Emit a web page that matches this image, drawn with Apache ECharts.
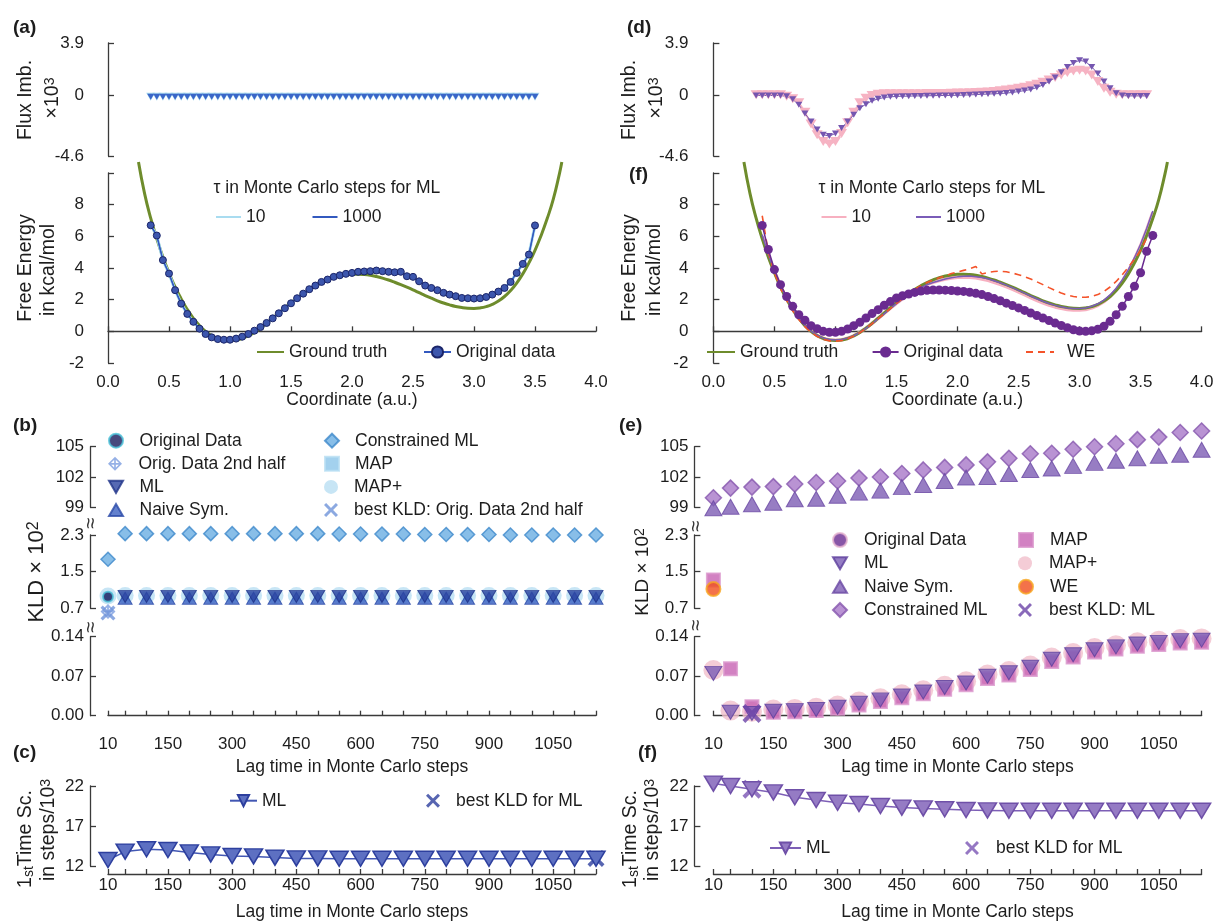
<!DOCTYPE html>
<html>
<head>
<meta charset="utf-8">
<script src="https://cdn.jsdelivr.net/npm/echarts@6/dist/echarts.min.js"></script>
<style>
html,body{margin:0;padding:0;background:#fff;}
#chart{width:1215px;height:924px;}
</style>
</head>
<body>
<div id="chart"></div>
<script>
// ---------- reaction coordinate samples (a.u.) ----------
const gtCoord = [0.25,0.30,0.35,0.40,0.45,0.50,0.55,0.60,0.65,0.70,0.75,0.80,0.85,0.90,0.95,1.00,1.05,1.10,1.15,1.20,1.25,1.30,1.35,1.40,1.45,1.50,1.55,1.60,1.65,1.70,1.75,1.80,1.85,1.90,1.95,2.00,2.05,2.10,2.15,2.20,2.25,2.30,2.35,2.40,2.45,2.50,2.55,2.60,2.65,2.70,2.75,2.80,2.85,2.90,2.95,3.00,3.05,3.10,3.15,3.20,3.25,3.30,3.35,3.40,3.45,3.50,3.55,3.60,3.65,3.70,3.72];
const groundTruth = [10.7,8.7,7.15,5.85,4.7,3.7,2.8,2.05,1.38,0.82,0.36,0.0,-0.27,-0.45,-0.55,-0.58,-0.55,-0.45,-0.29,-0.07,0.2,0.5,0.83,1.16,1.49,1.81,2.11,2.39,2.65,2.88,3.08,3.25,3.39,3.49,3.56,3.6,3.61,3.59,3.54,3.46,3.36,3.24,3.1,2.95,2.79,2.62,2.44,2.26,2.09,1.93,1.79,1.67,1.57,1.5,1.46,1.45,1.48,1.56,1.7,1.91,2.2,2.58,3.05,3.63,4.32,5.12,6.05,7.12,8.35,9.95,10.7];

// left column: equilibrium data
const coordLeft = [0.35,0.40,0.45,0.50,0.55,0.60,0.65,0.70,0.75,0.80,0.85,0.90,0.95,1.00,1.05,1.10,1.15,1.20,1.25,1.30,1.35,1.40,1.45,1.50,1.55,1.60,1.65,1.70,1.75,1.80,1.85,1.90,1.95,2.00,2.05,2.10,2.15,2.20,2.25,2.30,2.35,2.40,2.45,2.50,2.55,2.60,2.65,2.70,2.75,2.80,2.85,2.90,2.95,3.00,3.05,3.10,3.15,3.20,3.25,3.30,3.35,3.40,3.45,3.50];
const origLeft = [6.7,6.05,4.5,3.65,2.6,1.75,1.1,0.6,0.17,-0.17,-0.38,-0.49,-0.53,-0.53,-0.46,-0.34,-0.17,0.04,0.27,0.53,0.82,1.14,1.46,1.77,2.09,2.38,2.66,2.89,3.12,3.27,3.44,3.54,3.63,3.69,3.76,3.78,3.8,3.84,3.8,3.76,3.73,3.76,3.48,3.44,3.16,2.89,2.74,2.6,2.43,2.32,2.22,2.11,2.09,2.07,2.09,2.17,2.32,2.51,2.74,3.12,3.69,4.26,4.85,6.69];
// ML estimates for both lag times follow the histogram on this side
const mlLeft10 = origLeft;
const mlLeft1000 = origLeft;
const fluxLeft10 = [0,0,0,0,0,0,0,0,0,0,0,0,0,0,0,0,0,0,0,0,0,0,0,0,0,0,0,0,0,0,0,0,0,0,0,0,0,0,0,0,0,0,0,0,0,0,0,0,0,0,0,0,0,0,0,0,0,0,0,0,0,0,0,0];
const fluxLeft1000 = [0,0,0,0,0,0,0,0,0,0,0,0,0,0,0,0,0,0,0,0,0,0,0,0,0,0,0,0,0,0,0,0,0,0,0,0,0,0,0,0,0,0,0,0,0,0,0,0,0,0,0,0,0,0,0,0,0,0,0,0,0,0,0,0];

// right column: non-equilibrium data
const coordRight = [0.40,0.45,0.50,0.55,0.60,0.65,0.70,0.75,0.80,0.85,0.90,0.95,1.00,1.05,1.10,1.15,1.20,1.25,1.30,1.35,1.40,1.45,1.50,1.55,1.60,1.65,1.70,1.75,1.80,1.85,1.90,1.95,2.00,2.05,2.10,2.15,2.20,2.25,2.30,2.35,2.40,2.45,2.50,2.55,2.60,2.65,2.70,2.75,2.80,2.85,2.90,2.95,3.00,3.05,3.10,3.15,3.20,3.25,3.30,3.35,3.40,3.45,3.50,3.55,3.60];
const origRight = [6.69,5.17,3.9,2.95,2.2,1.58,1.05,0.7,0.36,0.17,0.0,-0.06,-0.06,0.0,0.15,0.36,0.57,0.84,1.12,1.37,1.65,1.88,2.11,2.25,2.36,2.46,2.54,2.59,2.61,2.61,2.6,2.58,2.55,2.52,2.47,2.4,2.32,2.2,2.07,1.93,1.78,1.63,1.48,1.32,1.16,1.0,0.84,0.68,0.52,0.37,0.23,0.1,0.02,0.0,0.03,0.13,0.32,0.63,1.05,1.58,2.2,2.85,3.7,5.06,6.05];
const mlRight10 = [6.0,4.8,3.78,2.85,2.07,1.4,0.83,0.37,0.0,-0.27,-0.45,-0.55,-0.57,-0.54,-0.44,-0.28,-0.06,0.2,0.5,0.82,1.14,1.46,1.77,2.06,2.33,2.57,2.78,2.96,3.1,3.21,3.3,3.37,3.41,3.43,3.42,3.38,3.31,3.22,3.1,2.97,2.82,2.66,2.49,2.31,2.13,1.96,1.8,1.66,1.54,1.45,1.38,1.34,1.34,1.38,1.48,1.64,1.88,2.2,2.62,3.15,3.8,4.55,5.4,6.4,7.5];
const mlRight1000 = [6.1,4.85,3.8,2.85,2.08,1.4,0.84,0.38,0.02,-0.25,-0.43,-0.52,-0.55,-0.52,-0.43,-0.28,-0.07,0.19,0.48,0.8,1.12,1.44,1.75,2.04,2.31,2.55,2.76,2.94,3.08,3.2,3.3,3.38,3.44,3.48,3.49,3.45,3.4,3.32,3.2,3.07,2.92,2.76,2.59,2.41,2.23,2.06,1.9,1.76,1.64,1.55,1.48,1.44,1.44,1.48,1.58,1.74,1.97,2.3,2.72,3.25,3.9,4.65,5.5,6.5,7.6];
const weCoord = [0.40,0.45,0.50,0.55,0.60,0.65,0.70,0.75,0.80,0.85,0.90,0.95,1.00,1.05,1.10,1.15,1.20,1.25,1.30,1.35,1.40,1.45,1.50,1.55,1.60,1.65,1.70,1.75,1.80,1.85,1.90,1.95,2.00,2.05,2.10,2.15,2.20,2.25,2.30,2.35,2.40,2.45,2.50,2.55,2.60,2.65,2.70,2.75,2.80,2.85,2.90,2.95,3.00,3.05,3.10,3.15,3.20,3.25,3.30,3.35,3.40,3.45,3.50,3.55];
const weRight = [7.3,5.0,3.7,2.7,1.95,1.3,0.75,0.3,-0.05,-0.32,-0.5,-0.6,-0.62,-0.58,-0.47,-0.3,-0.08,0.18,0.48,0.8,1.12,1.44,1.76,2.07,2.37,2.64,2.88,3.08,3.25,3.38,3.5,3.65,3.75,3.85,3.95,4.1,3.62,3.72,3.78,3.8,3.76,3.68,3.58,3.45,3.3,3.13,2.95,2.76,2.58,2.42,2.29,2.2,2.15,2.15,2.2,2.32,2.52,2.8,3.15,3.58,4.05,4.55,5.1,5.9];
const fluxCoordRight = [0.35,0.40,0.45,0.50,0.55,0.60,0.65,0.70,0.75,0.80,0.85,0.90,0.95,1.00,1.05,1.10,1.15,1.20,1.25,1.30,1.35,1.40,1.45,1.50,1.55,1.60,1.65,1.70,1.75,1.80,1.85,1.90,1.95,2.00,2.05,2.10,2.15,2.20,2.25,2.30,2.35,2.40,2.45,2.50,2.55,2.60,2.65,2.70,2.75,2.80,2.85,2.90,2.95,3.00,3.05,3.10,3.15,3.20,3.25,3.30,3.35,3.40,3.45,3.50,3.55];
const fluxRight10 = [0,0,0,0,0,-0.1,-0.3,-0.6,-1.3,-2.2,-3.0,-3.5,-3.7,-3.5,-2.9,-2.1,-1.3,-0.6,-0.25,-0.05,0.05,0.08,0.08,0.08,0.08,0.08,0.08,0.09,0.1,0.1,0.1,0.11,0.12,0.13,0.14,0.15,0.17,0.19,0.22,0.26,0.3,0.36,0.42,0.5,0.58,0.68,0.8,0.95,1.12,1.3,1.5,1.68,1.8,1.85,1.8,1.5,1.0,0.5,0.2,0.05,0,0,0,0,0];
const fluxRight1000 = [-0.05,-0.05,-0.05,-0.05,-0.05,-0.1,-0.33,-0.75,-1.4,-2.0,-2.6,-3.0,-3.1,-2.9,-2.5,-2.0,-1.5,-1.0,-0.7,-0.45,-0.3,-0.2,-0.15,-0.12,-0.1,-0.1,-0.08,-0.08,-0.07,-0.06,-0.05,-0.05,-0.04,-0.03,-0.02,0.0,0.02,0.04,0.06,0.08,0.1,0.13,0.18,0.25,0.32,0.4,0.55,0.75,1.0,1.3,1.7,2.1,2.4,2.6,2.5,2.1,1.6,1.0,0.5,0.12,-0.05,-0.08,-0.08,-0.08,-0.08];

// ---------- lag times (Monte Carlo steps) ----------
const lags = [10,50,100,150,200,250,300,350,400,450,500,550,600,650,700,750,800,850,900,950,1000,1050,1100,1150];
const lagsFrom50 = [50,100,150,200,250,300,350,400,450,500,550,600,650,700,750,800,850,900,950,1000,1050,1100,1150];
const lagLabels = [10,150,300,450,600,750,900,1050];

// KLD x 10^2, left column
const kldLMapPlus = [0.97,0.98,0.98,0.98,0.98,0.98,0.98,0.98,0.98,0.98,0.98,0.98,0.98,0.98,0.98,0.98,0.98,0.98,0.98,0.98,0.98,0.98,0.98,0.98];
const kldLMap = [0.96,0.96,0.96,0.96,0.96,0.96,0.96,0.96,0.96,0.96,0.96,0.96,0.96,0.96,0.96,0.96,0.96,0.96,0.96,0.96,0.96,0.96,0.96,0.96];
const kldLConstrained = [1.77,2.33,2.33,2.33,2.33,2.33,2.33,2.33,2.33,2.33,2.33,2.32,2.32,2.32,2.32,2.31,2.31,2.31,2.31,2.3,2.3,2.3,2.3,2.3];
const kldLML = [0.96,0.96,0.96,0.96,0.96,0.96,0.96,0.96,0.96,0.96,0.96,0.96,0.96,0.96,0.96,0.96,0.96,0.96,0.96,0.96,0.96,0.96,0.96];
const kldLNaive = [0.92,0.92,0.92,0.92,0.92,0.92,0.92,0.92,0.92,0.92,0.92,0.92,0.92,0.92,0.92,0.92,0.92,0.92,0.92,0.92,0.92,0.92,0.92];
const kldLOrigLag = [10], kldLOrig = [0.95];
const kldLHalfLag = [10], kldLHalf = [0.63];
const kldLBestLag = [10], kldLBest = [0.6];

// KLD x 10^2, right column
const kldRConstrained = [99.95,100.9,101.0,101.05,101.3,101.45,101.6,101.9,102.0,102.35,102.7,102.95,103.2,103.5,103.85,104.3,104.35,104.75,105.0,105.3,105.7,105.95,106.4,106.55];
const kldRNaive = [98.9,99.06,99.3,99.45,99.8,99.85,100.15,100.45,100.65,101.0,101.2,101.6,101.95,102.0,102.3,102.7,102.85,103.1,103.4,103.6,103.85,104.1,104.2,104.7];
const kldRMapLag10 = [1.32];
const kldRWE = [1.12];
const kldRML = [0.075,0.006,0.004,0.008,0.009,0.011,0.015,0.022,0.028,0.035,0.042,0.05,0.058,0.07,0.076,0.086,0.1,0.108,0.117,0.122,0.127,0.13,0.133,0.134];
const kldRMap = [0.083,0.016,0.006,0.007,0.009,0.013,0.019,0.025,0.032,0.039,0.047,0.055,0.066,0.072,0.082,0.096,0.104,0.113,0.118,0.123,0.126,0.129,0.13];
const kldRMapPlus = [0.081,0.009,0.007,0.011,0.012,0.014,0.018,0.025,0.031,0.038,0.045,0.053,0.061,0.073,0.079,0.089,0.103,0.111,0.12,0.125,0.13,0.133,0.136,0.137];
const kldRBestLag = [100], kldRBest = [0.004];
const kldROrigLag = [], kldROrig = [];

// first implied time scale (steps / 10^3)
const tsLeftML = [12.75,13.8,14.1,14.0,13.7,13.45,13.25,13.2,13.05,12.95,12.95,12.9,12.9,12.9,12.9,12.9,12.9,12.9,12.9,12.9,12.9,12.9,12.9,12.9];
const tsLeftBestLag = [1150], tsLeftBest = [12.95];
const tsRightML = [22.3,22.0,21.6,21.2,20.6,20.25,19.9,19.75,19.5,19.3,19.2,19.1,19.0,18.95,18.9,18.9,18.9,18.9,18.9,18.9,18.9,18.9,18.9,18.9];
const tsRightBestLag = [100], tsRightBest = [21.6];

// ---------- styling ----------
const FONT = '"Liberation Sans", Arial, Helvetica, sans-serif';
const AX = '#3a3a3a';
const TXT = '#1d1d1d';
const TRI_DOWN = 'path://M0,0L20,0L10,17.3Z';
const TRI_UP = 'path://M10,0L20,17.3L0,17.3Z';
const XMARK = 'path://M0,1.5L1.5,0L5,3.5L8.5,0L10,1.5L6.5,5L10,8.5L8.5,10L5,6.5L1.5,10L0,8.5L3.5,5Z';
const CROSS_DIAMOND = 'path://M5,0L10,5L5,10L0,5Z M5,1.6L1.6,5L5,8.4L8.4,5Z M4.4,0.6L5.6,0.6L5.6,9.4L4.4,9.4Z M0.6,4.4L9.4,4.4L9.4,5.6L0.6,5.6Z';

const pts = (xs, ys) => xs.map((x, i) => [x, ys[i]]);

// panel geometry
const COLS = [
  {left: 108, width: 488, yOff: 18},
  {left: 713.4, width: 488.2, yOff: 19}
];
const ROWS = [
  {top: 43, height: 113},     // flux imbalance
  {top: 173, height: 190},    // free energy
  {top: 446.7, height: 60.6}, // KLD upper segment
  {top: 535, height: 73.3},   // KLD middle segment
  {top: 636.7, height: 79},   // KLD lower segment
  {top: 786, height: 80}      // time scale
];

const grids = [];
COLS.forEach(c => ROWS.forEach(r => grids.push({
  left: c.left, top: r.top, width: c.width, height: r.height, outerBoundsMode: 'none'
})));

const axLine = {show: true, lineStyle: {color: AX, width: 1.3}};
const labelBase = {color: TXT, fontSize: 17, fontFamily: FONT};

function yAxis(g, off, min, max, vals, fmt) {
  return {
    type: 'value', gridIndex: g, min: min, max: max, offset: off,
    axisLine: axLine,
    axisTick: {show: true, inside: true, length: 6, customValues: vals, lineStyle: {color: AX, width: 1.3}},
    axisLabel: Object.assign({margin: 6, customValues: vals.filter(v => fmt(v) !== ''), formatter: fmt}, labelBase),
    splitLine: {show: false}
  };
}
function xHidden(g, min, max) {
  return {type: 'value', gridIndex: g, min: min, max: max, show: false};
}
function xShown(g, min, max, off, tickVals, labelVals, fmt, name, gap) {
  return {
    type: 'value', gridIndex: g, min: min, max: max, offset: off,
    axisLine: axLine,
    axisTick: {show: true, inside: true, length: 5, customValues: tickVals, lineStyle: {color: AX, width: 1.3}},
    axisLabel: Object.assign({margin: 3, customValues: labelVals, formatter: fmt}, labelBase),
    splitLine: {show: false},
    name: name, nameLocation: 'middle', nameGap: gap, nameMoveOverlap: false,
    nameTextStyle: {color: TXT, fontSize: 17.5, fontFamily: FONT}
  };
}

const coordTicks = [0, 0.5, 1, 1.5, 2, 2.5, 3, 3.5, 4];
const xAxes = [], yAxes = [];
COLS.forEach((c, ci) => {
  const b = ci * 6;
  xAxes.push(xHidden(b, 0, 4));
  xAxes.push(xShown(b + 1, 0, 4, 8, coordTicks, coordTicks, v => v.toFixed(1), 'Coordinate (a.u.)', 20));
  xAxes.push(xHidden(b + 2, 10, 1150));
  xAxes.push(xHidden(b + 3, 10, 1150));
  xAxes.push(xShown(b + 4, 10, 1150, 17, lags, lagLabels, v => String(v), 'Lag time in Monte Carlo steps', 25));
  xAxes.push(xShown(b + 5, 10, 1150, 8, lags, lagLabels, v => String(v), 'Lag time in Monte Carlo steps', 29));

  yAxes.push(yAxis(b, c.yOff, -4.6, 3.9, [-4.6, 0, 3.9], v => String(v)));
  yAxes.push(yAxis(b + 1, c.yOff, -2, 10, [-2, 0, 2, 4, 6, 8, 10], v => v === 10 ? '' : String(v)));
  yAxes.push(yAxis(b + 2, c.yOff, 99, 105, [99, 102, 105], v => String(v)));
  yAxes.push(yAxis(b + 3, c.yOff, 0.7, 2.3, [0.7, 1.5, 2.3], v => v.toFixed(1)));
  yAxes.push(yAxis(b + 4, c.yOff, 0, 0.14, [0, 0.07, 0.14], v => v.toFixed(2)));
  yAxes.push(yAxis(b + 5, c.yOff, 12, 22, [12, 17, 22], v => String(v)));
});

function line(name, g, xs, ys, o) {
  return Object.assign({
    type: 'line', name: name, xAxisIndex: g, yAxisIndex: g, data: pts(xs, ys),
    symbol: 'none', clip: false, animation: false, emphasis: {disabled: true}
  }, o);
}
function scat(name, g, xs, ys, o) {
  return Object.assign({
    type: 'scatter', name: name, xAxisIndex: g, yAxisIndex: g, data: pts(xs, ys),
    clip: false, animation: false, emphasis: {disabled: true}
  }, o);
}

const series = [
  // ---- (a) flux imbalance, left ----
  line('Lflux|10', 0, coordLeft, fluxLeft10, {symbol: TRI_DOWN, symbolSize: [9, 8], symbolOffset: [0, 2],
    lineStyle: {color: '#a9d9ef', width: 2}, itemStyle: {color: '#a9d9ef'}}),
  line('Lflux|1000', 0, coordLeft, fluxLeft1000, {symbol: TRI_DOWN, symbolSize: [7, 6], symbolOffset: [0, 2],
    lineStyle: {color: '#3a66c8', width: 1}, itemStyle: {color: '#3a66c8'}}),
  // ---- (a) free energy, left ----
  line('L|Ground truth', 1, gtCoord, groundTruth, {smooth: true, lineStyle: {color: '#6e8c2c', width: 3}, itemStyle: {color: '#6e8c2c'}}),
  line('L|10', 1, coordLeft, mlLeft10, {lineStyle: {color: '#a9dcf0', width: 3}, itemStyle: {color: '#a9dcf0'}}),
  line('L|1000', 1, coordLeft, mlLeft1000, {lineStyle: {color: '#3359bf', width: 1.5}, itemStyle: {color: '#3359bf'}}),
  line('L|Original data', 1, coordLeft, origLeft, {symbol: 'circle', symbolSize: 7,
    lineStyle: {color: '#3359bf', width: 1}, itemStyle: {color: '#3c56ad', borderColor: '#1b2569', borderWidth: 1}}),
  // ---- (b) KLD, left ----
  scat('L|MAP+', 3, lags, kldLMapPlus, {symbol: 'circle', symbolSize: 17, itemStyle: {color: '#b9def2'}}),
  scat('L|MAP', 3, lags, kldLMap, {symbol: 'rect', symbolSize: 9, itemStyle: {color: '#8cc6ea', borderColor: '#b9def2', borderWidth: 1}}),
  scat('L|Constrained ML', 3, lags, kldLConstrained, {symbol: 'diamond', symbolSize: [14, 14],
    itemStyle: {color: '#6aaee2', borderColor: '#3d88cb', borderWidth: 1.5}}),
  scat('L|Naive Sym.', 3, lagsFrom50, kldLNaive, {symbol: TRI_UP, symbolSize: [14, 12],
    itemStyle: {color: '#3c62c2', borderColor: '#2a4aa8', borderWidth: 1}}),
  scat('L|ML', 3, lagsFrom50, kldLML, {symbol: TRI_DOWN, symbolSize: [14, 12],
    itemStyle: {color: '#2c43a0', borderColor: '#1f3388', borderWidth: 1}}),
  scat('L|Original Data', 3, kldLOrigLag, kldLOrig, {symbol: 'circle', symbolSize: 10,
    itemStyle: {color: '#191c5c', borderColor: '#4cc3d9', borderWidth: 2}}),
  scat('L|Orig. Data 2nd half', 3, kldLHalfLag, kldLHalf, {symbol: CROSS_DIAMOND, symbolSize: 15, itemStyle: {color: '#7c9ee0'}}),
  scat('L|best KLD: Orig. Data 2nd half', 3, kldLBestLag, kldLBest, {symbol: XMARK, symbolSize: 15, itemStyle: {color: '#6f93da'}}),
  // ---- (c) time scale, left ----
  line('Lc|ML', 5, lags, tsLeftML, {symbol: TRI_DOWN, symbolSize: [18, 15],
    lineStyle: {color: '#4257b3', width: 1.5}, itemStyle: {color: '#5d70c2', borderColor: '#2d3f9e', borderWidth: 1.5}}),
  scat('Lc|best KLD for ML', 5, tsLeftBestLag, tsLeftBest, {symbol: XMARK, symbolSize: 17, itemStyle: {color: '#2d3f9e'}}),

  // ---- (d) flux imbalance, right ----
  line('Rflux|10', 6, fluxCoordRight, fluxRight10, {symbol: TRI_DOWN, symbolSize: [11, 9],
    lineStyle: {color: '#f6b3c3', width: 2}, itemStyle: {color: '#f6b3c3'}}),
  line('Rflux|1000', 6, fluxCoordRight, fluxRight1000, {symbol: TRI_DOWN, symbolSize: [7, 6],
    lineStyle: {color: '#7556b0', width: 1}, itemStyle: {color: '#7556b0'}}),
  // ---- (f) free energy, right ----
  line('R|10', 7, coordRight, mlRight10, {lineStyle: {color: '#f7b0c0', width: 3.5}, itemStyle: {color: '#f7b0c0'}}),
  line('R|Ground truth', 7, gtCoord, groundTruth, {smooth: true, lineStyle: {color: '#6e8c2c', width: 3}, itemStyle: {color: '#6e8c2c'}}),
  line('R|1000', 7, coordRight, mlRight1000, {lineStyle: {color: '#7a5cb8', width: 1.5}, itemStyle: {color: '#7a5cb8'}}),
  line('R|WE', 7, weCoord, weRight, {lineStyle: {color: '#f4532a', width: 1.6, type: [7, 5]}, itemStyle: {color: '#f4532a'}}),
  line('R|Original data', 7, coordRight, origRight, {symbol: 'circle', symbolSize: 9,
    lineStyle: {color: '#6a2b90', width: 1.5}, itemStyle: {color: '#6a2b90'}}),
  // ---- (e) KLD, right ----
  scat('R|Original Data', 9, kldROrigLag, kldROrig, {symbol: 'circle', symbolSize: 11,
    itemStyle: {color: '#6a2c91', borderColor: '#e6b4cf', borderWidth: 2}}),
  scat('R|Constrained ML', 8, lags, kldRConstrained, {symbol: 'diamond', symbolSize: [16, 16],
    itemStyle: {color: '#a878c8', borderColor: '#8656ae', borderWidth: 1.5}}),
  scat('R|Naive Sym.', 8, lags, kldRNaive, {symbol: TRI_UP, symbolSize: [17, 15],
    itemStyle: {color: '#7d5cb4', borderColor: '#6a49a4', borderWidth: 1}}),
  scat('R|MAP+', 10, lags, kldRMapPlus, {symbol: 'circle', symbolSize: 20, itemStyle: {color: '#f1bfcc'}}),
  scat('R|MAP', 9, [10], kldRMapLag10, {symbol: 'rect', symbolSize: 13,
    itemStyle: {color: '#c761b3', borderColor: '#d993cb', borderWidth: 2}}),
  scat('R|MAP', 10, lagsFrom50, kldRMap, {symbol: 'rect', symbolSize: 13,
    itemStyle: {color: '#c761b3', borderColor: '#d993cb', borderWidth: 2}}),
  scat('Rk|WE', 9, [10], kldRWE, {symbol: 'circle', symbolSize: 14,
    itemStyle: {color: '#f04f1d', borderColor: '#f8a723', borderWidth: 2}}),
  scat('R|ML', 10, lags, kldRML, {symbol: TRI_DOWN, symbolSize: [17, 14],
    itemStyle: {color: '#7b5db5', borderColor: '#5c3e9c', borderWidth: 1}}),
  scat('R|best KLD: ML', 10, kldRBestLag, kldRBest, {symbol: XMARK, symbolSize: 19, itemStyle: {color: '#6c44a8'}}),
  // ---- (f) time scale, right ----
  line('Rc|ML', 11, lags, tsRightML, {symbol: TRI_DOWN, symbolSize: [18, 15],
    lineStyle: {color: '#7d5fb6', width: 1.5}, itemStyle: {color: '#957bc4', borderColor: '#6f50a8', borderWidth: 1.5}}),
  scat('Rc|best KLD for ML', 11, tsRightBestLag, tsRightBest, {symbol: XMARK, symbolSize: 19, itemStyle: {color: '#7a55b4'}})
];

// ---------- legends: one component per entry ----------
const legText = pad => ({fontSize: 17.5, color: TXT, fontFamily: FONT, padding: [0, 0, 0, pad || 0]});
// line-only entry: keep the stroke, drop the default marker
function legLine(name, left, cy, iw, pad) {
  return {
    data: [name], left: left, top: cy - 9, itemWidth: iw, itemHeight: 14, padding: 0,
    selectedMode: false, formatter: n => n.split('|')[1],
    itemStyle: {opacity: 0}, textStyle: legText(pad)
  };
}
// line + marker entry
function legMark(name, left, cy, iw) {
  return {
    data: [name], left: left, top: cy - 9, itemWidth: iw, itemHeight: 14, padding: 0,
    selectedMode: false, formatter: n => n.split('|')[1], textStyle: legText(0)
  };
}
// marker-only entry, icon centred on cx, text starting at tx
function legSym(name, cx, tx, cy) {
  return {
    data: [name], left: cx - 7, top: cy - 9, itemWidth: 14, itemHeight: 14, padding: 0,
    selectedMode: false, formatter: n => n.split('|')[1], textStyle: legText(tx - (cx + 12))
  };
}

const legends = [
  legLine('L|10', 215, 217, 25), legLine('L|1000', 311.5, 217, 25),
  legLine('L|Ground truth', 256, 352, 27), legMark('L|Original data', 423, 352, 27),
  legLine('R|10', 820.5, 217, 25), legLine('R|1000', 915, 217, 25),
  legLine('R|Ground truth', 706, 352, 28), legMark('R|Original data', 871.6, 352, 26),
  legLine('R|WE', 1025, 352, 28, 8),

  legSym('L|Original Data', 115, 138.5, 440.7), legSym('L|Orig. Data 2nd half', 115, 138.5, 463.8),
  legSym('L|ML', 115, 138.5, 486.9), legSym('L|Naive Sym.', 115, 138.5, 510),
  legSym('L|Constrained ML', 331, 354, 440.7), legSym('L|MAP', 331, 354, 463.8),
  legSym('L|MAP+', 331, 354, 486.9), legSym('L|best KLD: Orig. Data 2nd half', 331, 354, 510),

  legSym('R|Original Data', 839, 863, 540), legSym('R|ML', 839, 863, 563.3),
  legSym('R|Naive Sym.', 839, 863, 586.7), legSym('R|Constrained ML', 839, 863, 610),
  legSym('R|MAP', 1025, 1049, 540), legSym('R|MAP+', 1025, 1049, 563.3),
  legSym('Rk|WE', 1025, 1049, 586.7), legSym('R|best KLD: ML', 1025, 1049, 610),

  legMark('Lc|ML', 229, 800.7, 27), legSym('Lc|best KLD for ML', 433, 456, 800.7),
  legMark('Rc|ML', 769, 848, 31), legSym('Rc|best KLD for ML', 972, 996, 848)
];

// ---------- free text: panel tags, axis titles, axis breaks ----------
function txt(x, y, text, size, o) {
  return {type: 'text', x: x, y: y, silent: true, rotation: (o && o.rot) || 0,
    style: Object.assign({text: text, fontSize: size, fontFamily: FONT, fill: TXT,
      align: (o && o.align) || 'center', verticalAlign: 'middle',
      fontWeight: (o && o.bold) ? 'bold' : 'normal'}, (o && o.style) || {})};
}
const V = Math.PI / 2;
const supRich = s => ({n: {fontSize: s, fontFamily: FONT, fill: TXT}, p: {fontSize: Math.round(s * 0.72), fontFamily: FONT, fill: TXT, verticalAlign: 'top'}});
const subRich = s => ({n: {fontSize: s, fontFamily: FONT, fill: TXT}, b: {fontSize: Math.round(s * 0.72), fontFamily: FONT, fill: TXT, verticalAlign: 'bottom'}});

const graphics = [
  txt(13, 28, '(a)', 19, {align: 'left', bold: true}),
  txt(13, 426, '(b)', 19, {align: 'left', bold: true}),
  txt(13, 753, '(c)', 19, {align: 'left', bold: true}),
  txt(627, 28, '(d)', 19, {align: 'left', bold: true}),
  txt(629, 175, '(f)', 19, {align: 'left', bold: true}),
  txt(619, 426, '(e)', 19, {align: 'left', bold: true}),
  txt(638, 753, '(f)', 19, {align: 'left', bold: true}),

  txt(213.5, 188, 'τ in Monte Carlo steps for ML', 17.5, {align: 'left'}),
  txt(818.5, 188, 'τ in Monte Carlo steps for ML', 17.5, {align: 'left'}),

  txt(26, 100, 'Flux Imb.', 19.5, {rot: V}),
  txt(53, 98, '{n|×10}{p|3}', 19.5, {rot: V, style: {rich: supRich(19.5)}}),
  txt(629.5, 100, 'Flux Imb.', 19.5, {rot: V}),
  txt(657, 98, '{n|×10}{p|3}', 19.5, {rot: V, style: {rich: supRich(19.5)}}),

  txt(26, 268, 'Free Energy', 19.5, {rot: V}),
  txt(49, 270, 'in kcal/mol', 19.5, {rot: V}),
  txt(629.5, 268, 'Free Energy', 19.5, {rot: V}),
  txt(655, 270, 'in kcal/mol', 19.5, {rot: V}),

  txt(37, 572, '{n|KLD × 10}{p|2}', 22, {rot: V, style: {rich: supRich(22)}}),
  txt(643, 572, '{n|KLD × 10}{p|2}', 19, {rot: V, style: {rich: supRich(19)}}),

  txt(26, 839, '{n|1}{b|st}{n|Time Sc.}', 19.5, {rot: V, style: {rich: subRich(19.5)}}),
  txt(49, 830, '{n|in steps/10}{p|3}', 19.5, {rot: V, style: {rich: supRich(19.5)}}),
  txt(631, 839, '{n|1}{b|st}{n|Time Sc.}', 19.5, {rot: V, style: {rich: subRich(19.5)}}),
  txt(653, 830, '{n|in steps/10}{p|3}', 19.5, {rot: V, style: {rich: supRich(19.5)}}),

  txt(91, 523, '≈', 20, {rot: V, style: {fill: '#333'}}),
  txt(91, 627, '≈', 20, {rot: V, style: {fill: '#333'}}),
  txt(696, 526, '≈', 20, {rot: V, style: {fill: '#333'}}),
  txt(696, 625, '≈', 20, {rot: V, style: {fill: '#333'}})
];

const chart = echarts.init(document.getElementById('chart'), null, {renderer: 'canvas'});
chart.setOption({
  animation: false,
  backgroundColor: '#ffffff',
  grid: grids,
  xAxis: xAxes,
  yAxis: yAxes,
  legend: legends,
  series: series,
  graphic: graphics
});
</script>
</body>
</html>
